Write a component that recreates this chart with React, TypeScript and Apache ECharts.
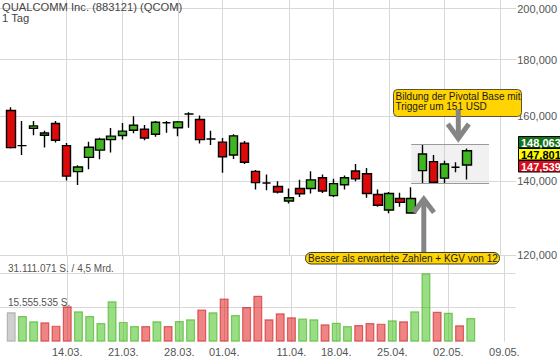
import React, { useEffect, useRef } from 'react';
import * as echarts from 'echarts';

// ---------- data ----------
const tradeDates = [
  '07.03.', '08.03.', '09.03.', '10.03.', '11.03.', '14.03.', '15.03.', '16.03.', '17.03.', '18.03.',
  '21.03.', '22.03.', '23.03.', '24.03.', '25.03.', '28.03.', '29.03.', '30.03.', '31.03.', '01.04.',
  '04.04.', '05.04.', '06.04.', '07.04.', '08.04.', '11.04.', '12.04.', '13.04.', '14.04.', '18.04.',
  '19.04.', '20.04.', '21.04.', '22.04.', '25.04.', '26.04.', '27.04.', '28.04.', '29.04.', '02.05.',
  '03.05.', '04.05.',
];
const padBefore = ['04.03.'];
const padAfter = ['05.05.', '06.05.', '09.05.', '10.05.'];
const labelDates = ['14.03.', '21.03.', '28.03.', '01.04.', '11.04.', '18.04.', '25.04.', '02.05.', '09.05.'];

const opens = [
  162.0, 150.6, 156.1, 153.9, 157.7, 150.6, 142.7, 147.0, 149.2, 152.5,
  153.8, 155.5, 155.8, 154.2, 157.9, 156.3, 160.8, 159.0, 152.7, 151.7,
  147.7, 151.4, 142.8, 139.4, 138.4, 134.3, 137.8, 137.8, 140.9, 135.8,
  138.9, 142.9, 142.1, 136.1, 131.8, 135.0, 131.0, 143.0, 145.7, 140.8,
  144.0, 144.7,
];
const closes = [
  150.0, 150.6, 156.9, 154.6, 152.3, 141.4, 144.1, 150.1, 152.6, 153.6,
  155.2, 157.1, 153.0, 158.1, 157.9, 158.2, 160.8, 152.5, 152.7, 147.2,
  153.7, 145.5, 139.5, 139.4, 136.8, 135.2, 136.3, 140.3, 137.1, 139.2,
  140.9, 140.6, 136.4, 133.1, 136.4, 133.9, 135.0, 148.0, 139.6, 145.0,
  144.0, 149.0,
];
const lows = [
  149.7, 147.7, 153.9, 150.0, 151.6, 140.1, 138.8, 143.4, 146.4, 148.5,
  152.5, 154.5, 152.3, 153.4, 154.7, 153.6, 156.3, 151.3, 150.8, 142.4,
  146.5, 145.0, 137.5, 137.3, 136.4, 133.6, 135.4, 136.4, 136.5, 135.4,
  137.5, 139.9, 135.2, 132.7, 130.9, 132.7, 130.8, 139.2, 139.2, 139.3,
  142.5, 140.4,
];
const highs = [
  163.1, 158.5, 158.5, 155.3, 158.5, 151.4, 144.6, 151.8, 153.1, 156.2,
  157.8, 160.1, 157.2, 158.5, 158.5, 158.5, 161.4, 160.3, 155.3, 153.0,
  154.2, 152.1, 143.2, 141.9, 139.9, 137.8, 140.3, 142.8, 141.9, 140.6,
  141.6, 145.0, 143.8, 137.5, 136.8, 136.6, 138.2, 151.1, 147.7, 146.0,
  145.5, 149.7,
];
const volumes = [
  13400000, 11700000, 9300000, 8800000, 7300000, 16100000, 13800000, 11700000, 8500000, 18400000,
  9000000, 7100000, 7100000, 9300000, 7100000, 9400000, 10200000, 14700000, 13400000, 19700000,
  12100000, 15800000, 20900000, 10200000, 12900000, 11100000, 10500000, 10200000, 7900000, 8600000,
  7100000, 7600000, 8500000, 8200000, 9700000, 9300000, 13800000, 31111071, 13600000, 13200000,
  7500000, 10800000,
];
const turnoverText = '4,5 Mrd.';
const priceTicks = [120, 140, 160, 180, 200];
const quoteTags = [148.063, 147.801, 147.539];
const pivotStart = '27.04.';
const pivotEnd = '06.05.';
const pivotHigh = 151.1;
const pivotLow = 139.2;
const titleText = 'QUALCOMM Inc. (883121) (QCOM)';
const periodText = '1 Tag';
const noteBase = 'Bildung der Pivotal Base mit\nTrigger um 151 USD';
const noteEarnings = 'Besser als erwartete Zahlen + KGV von 12';

// ---------- helpers ----------
const L = (v: number) => Math.log10(v);
const fmtPrice = (v: number) => v.toFixed(3).replace('.', ',');
const fmtVol = (v: number) => Math.floor(v + 1e-6).toString().replace(/\B(?=(\d{3})+(?!\d))/g, '.');

const FONT = '"Liberation Sans", Arial, Helvetica, sans-serif';
const GRID = '#d8d8d8';
const UP = '#3fb51f';
const DOWN = '#dc0a0a';

export default function App() {
  const ref = useRef<HTMLDivElement>(null);

  useEffect(() => {
    if (!ref.current) return;
    const chart = echarts.init(ref.current, undefined, { renderer: 'svg' });

    const categories = [...padBefore, ...tradeDates, ...padAfter];
    const candleData: any[] = [
      ...padBefore.map(() => '-'),
      ...tradeDates.map((_, i) => [L(opens[i]), L(closes[i]), L(lows[i]), L(highs[i])]),
      ...padAfter.map(() => '-'),
    ];
    const volMax = Math.max(...volumes);
    const volData: any[] = [
      ...padBefore.map(() => '-'),
      ...volumes.map((v, i) => {
        let c = 'rgba(150,150,150,0.45)';
        let b = 'rgba(150,150,150,0.6)';
        if (i > 0) {
          const up = closes[i] >= closes[i - 1];
          c = up ? 'rgba(60,190,20,0.52)' : 'rgba(222,10,10,0.5)';
          b = up ? 'rgba(60,175,20,0.6)' : 'rgba(200,10,10,0.55)';
        }
        return { value: v, itemStyle: { color: c, borderColor: b, borderWidth: 1.2 } };
      }),
      ...padAfter.map(() => '-'),
    ];

    const priceBottomY = 255.3;
    const volBottomY = 341.7;
    const volLineY = 273.3;
    const isLabelDate = (_i: number, v: string) => labelDates.includes(v);

    const xBase: any = {
      type: 'category',
      data: categories,
      boundaryGap: false,
      axisLine: { show: false },
      axisTick: { show: false },
      splitLine: { show: true, interval: isLabelDate, lineStyle: { color: GRID, width: 1 } },
    };

    const tagColors = [
      { bg: '#17701a', fg: '#ffffff' },
      { bg: '#ffff00', fg: '#000000' },
      { bg: '#dd0a1a', fg: '#ffffff' },
    ];
    const tagGraphics: any[] = [];
    quoteTags.forEach((v, i) => {
      const y = 136.5 + i * 12;
      tagGraphics.push({
        type: 'rect', z: 100, shape: { x: 518.5, y, width: 50, height: 11.5 },
        style: { fill: tagColors[i].bg, stroke: '#000', lineWidth: 1 },
      });
      tagGraphics.push({
        type: 'text', z: 101, x: 521, y: y + 6.2,
        style: { text: fmtPrice(v), fill: tagColors[i].fg, font: `bold 11px ${FONT}`, verticalAlign: 'middle', align: 'left' },
      });
    });

    const arrowStyle = { stroke: '#858585', lineWidth: 5, fill: null };

    chart.setOption({
      animation: false,
      backgroundColor: '#ffffff',
      grid: [
        { left: -6.96, right: 44.4, top: 0, bottom: 362 - priceBottomY },
        { left: -6.96, right: 44.4, top: priceBottomY, bottom: 362 - volBottomY },
      ],
      xAxis: [
        { ...xBase, gridIndex: 0, axisLabel: { show: false } },
        {
          ...xBase, gridIndex: 1,
          axisLabel: { show: true, interval: isLabelDate, fontSize: 11, color: '#555', fontFamily: FONT, margin: 5 },
        },
      ],
      yAxis: [
        {
          type: 'value', gridIndex: 0, position: 'right',
          min: L(priceTicks[0]), max: L(203.65),
          axisLine: { show: false },
          axisTick: { show: true, length: 5, lineStyle: { color: GRID }, customValues: priceTicks.map(L) },
          axisLabel: {
            customValues: priceTicks.map(L),
            formatter: (v: number) => fmtPrice(Math.pow(10, v)),
            color: '#555', fontSize: 11, fontFamily: FONT, margin: 6,
          },
          splitLine: { show: true, lineStyle: { color: GRID, width: 1 } },
        },
        {
          type: 'value', gridIndex: 1, position: 'left',
          min: 0, max: volMax * (volBottomY - priceBottomY) / (volBottomY - volLineY), interval: volMax / 2,
          axisLine: { show: false }, axisTick: { show: false },
          axisLabel: {
            inside: true, align: 'left', verticalAlign: 'bottom', margin: 8,
            fontSize: 10, color: '#555', fontFamily: FONT,
            formatter: (v: number) => {
              if (Math.abs(v - volMax) < 1) return `${fmtVol(v)} S. / ${turnoverText}`;
              if (Math.abs(v - volMax / 2) < 1) return `${fmtVol(v)} S.`;
              return '';
            },
          },
          splitLine: { show: true, showMinLine: false, lineStyle: { color: GRID, width: 1 } },
        },
      ],
      series: [
        {
          type: 'candlestick', xAxisIndex: 0, yAxisIndex: 0, data: candleData, barWidth: 9,
          itemStyle: {
            color: UP, color0: DOWN, borderColor: '#000', borderColor0: '#000', borderColorDoji: '#000', borderWidth: 1.4,
          },
          markArea: {
            silent: true, label: { show: false },
            itemStyle: { color: 'rgba(200,200,200,0.25)', borderWidth: 0 },
            data: [[{ xAxis: pivotStart, yAxis: L(pivotHigh) }, { xAxis: pivotEnd, yAxis: L(pivotLow) }]],
          },
          markLine: {
            silent: true, symbol: ['none', 'none'], label: { show: false },
            lineStyle: { color: '#9a9a9a', width: 1, type: 'solid' },
            data: [
              [{ coord: [pivotStart, L(pivotHigh)] }, { coord: [pivotEnd, L(pivotHigh)] }],
              [{ coord: [pivotStart, L(pivotLow)] }, { coord: [pivotEnd, L(pivotLow)] }],
            ],
          },
        },
        {
          type: 'bar', xAxisIndex: 1, yAxisIndex: 1, data: volData, barWidth: 9,
        },
      ],
      graphic: [
        { type: 'text', z: 100, x: 2, y: 1.5, style: { text: titleText, font: `11.2px ${FONT}`, fill: '#444', verticalAlign: 'top' } },
        { type: 'text', z: 100, x: 2, y: 12.5, style: { text: periodText, font: `11.2px ${FONT}`, fill: '#444', verticalAlign: 'top' } },
        ...tagGraphics,
        // pivotal base note
        {
          type: 'rect', z: 100, shape: { x: 393.5, y: 89.5, width: 128, height: 27, r: 4 },
          style: { fill: '#ffd400', stroke: '#5a5436', lineWidth: 1 },
        },
        {
          type: 'text', z: 101, x: 395.5, y: 90.8,
          style: { text: noteBase, font: `10px ${FONT}`, fill: '#1a1a1a', verticalAlign: 'top', lineHeight: 10.5 },
        },
        { type: 'line', z: 102, shape: { x1: 458.3, y1: 109.5, x2: 458.3, y2: 138 }, style: arrowStyle },
        { type: 'polyline', z: 102, shape: { points: [[447.8, 124], [458.3, 138.4], [468.8, 124]] }, style: arrowStyle },
        // earnings note
        { type: 'line', z: 100, shape: { x1: 423.8, y1: 253, x2: 423.8, y2: 200 }, style: arrowStyle },
        { type: 'polyline', z: 100, shape: { points: [[413.6, 212.5], [423.8, 199.2], [434, 212.5]] }, style: arrowStyle },
        {
          type: 'rect', z: 101, shape: { x: 305.5, y: 252.5, width: 194, height: 11.5, r: 5.5 },
          style: { fill: '#ffd400', stroke: '#3d3a2a', lineWidth: 1 },
        },
        {
          type: 'text', z: 102, x: 308, y: 258.5,
          style: { text: noteEarnings, font: `10px ${FONT}`, fill: '#1a1a1a', verticalAlign: 'middle' },
        },
      ],
    });

    return () => chart.dispose();
  }, []);

  return <div ref={ref} style={{ position: 'absolute', left: 0, top: 0, width: 560, height: 362 }} />;
}
